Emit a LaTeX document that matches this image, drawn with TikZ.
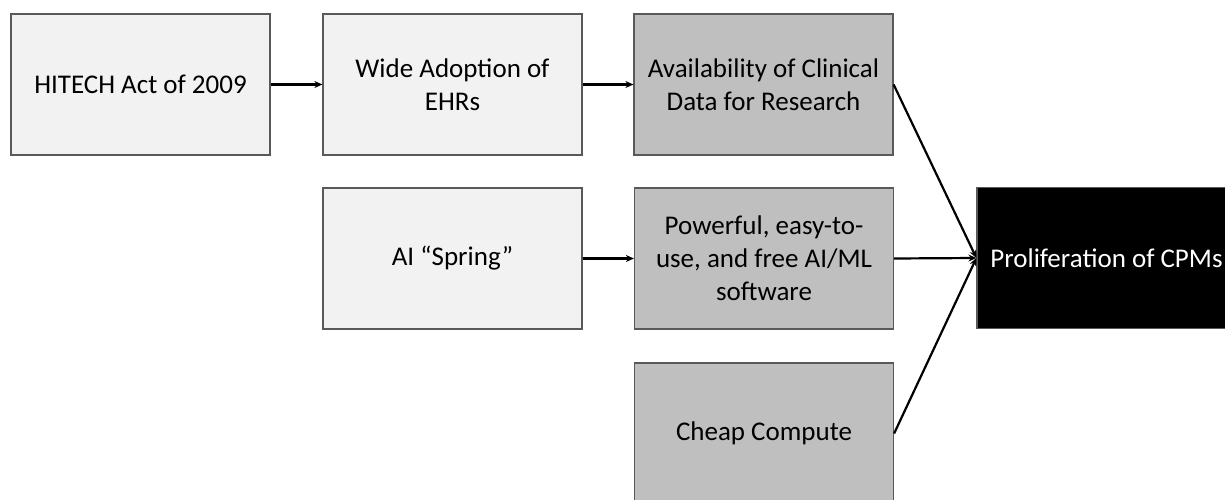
\documentclass[tikz,border=0pt]{standalone}
\usepackage{fontspec}
\setmainfont{Carlito}
\usetikzlibrary{arrows.meta}
\definecolor{lightbox}{HTML}{F2F2F2}
\definecolor{midbox}{HTML}{BFBFBF}
\definecolor{edgegray}{HTML}{595959}
\tikzset{
  boxbase/.style={draw=edgegray, line width=1.2pt, minimum width=259pt, minimum height=141pt,
    align=center, inner sep=2pt, font=\fontsize{27}{33}\selectfont},
  lightnode/.style={boxbase, fill=lightbox},
  midnode/.style={boxbase, fill=midbox},
  darknode/.style={boxbase, fill=black, text=white},
  flow/.style={line width=2.2pt, -{Stealth[length=8pt,width=7pt]}}
}
\begin{document}
\begin{tikzpicture}[x=1pt,y=-1pt]
  \clip (0,0) rectangle (1225,500);
  \useasboundingbox (0,0) rectangle (1225,500);
  \fill[white] (0,0) rectangle (1225,500);

  \node[lightnode] (hitech) at (140.5,84.5) {HITECH Act of 2009};
  \node[lightnode] (ehr) at (452.5,84.5) {Wide Adoption of\\EHRs};
  \node[midnode] (data) at (763.5,84.5) {Availability of Clinical\\Data for Research};
  \node[lightnode] (spring) at (452.5,258.5) {AI “Spring”};
  \node[midnode] (soft) at (764,258.5) {Powerful, easy-to-\\use, and free AI/ML\\software};
  \node[midnode] (compute) at (764,433.5) {Cheap Compute};
  \node[darknode] (cpm) at (1106.5,258) {Proliferation of CPMs};

  \draw[flow] (hitech) -- (ehr);
  \draw[flow] (ehr) -- (data);
  \draw[flow] (spring) -- (soft);
  \draw[flow] (data.east) -- (cpm.west);
  \draw[flow] (soft.east) -- (cpm.west);
  \draw[flow] (compute.east) -- (cpm.west);
\end{tikzpicture}
\end{document}
